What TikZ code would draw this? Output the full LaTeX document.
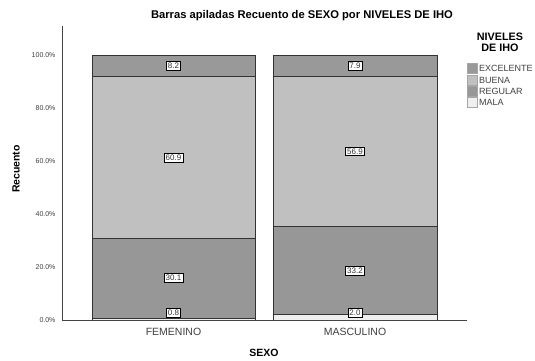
\documentclass[tikz,border=0pt]{standalone}
\usepackage{fontspec}
\setmainfont{Liberation Sans}
\definecolor{cexc}{HTML}{999999}
\definecolor{cbue}{HTML}{C0C0C0}
\definecolor{creg}{HTML}{979797}
\definecolor{cmal}{HTML}{EFEFEF}
\definecolor{axisc}{HTML}{444444}
\begin{document}
\begin{tikzpicture}[x=1pt,y=-1pt,
  seg/.style={draw=black!80, line width=0.6pt},
  valbox/.style={draw=black, fill=white, line width=0.5pt, inner sep=1.5pt,
    font=\fontsize{8}{9}\selectfont, text=black!80},
  tick/.style={anchor=east, font=\fontsize{7}{8}\selectfont, text=black!75},
  cat/.style={font=\fontsize{10.5}{12}\selectfont, text=black!75},
  axlab/.style={font=\bfseries\fontsize{10.5}{12}\selectfont},
  legsq/.style={draw=black!35, line width=0.4pt},
  legtxt/.style={anchor=west, font=\fontsize{9}{10}\selectfont, text=black!75, inner sep=0pt}]
\useasboundingbox[fill=white] (0,0) rectangle (535,360);

% title
\node[font=\bfseries\fontsize{11.2}{13}\selectfont] (title) at (302,16) {Barras apiladas Recuento de SEXO por NIVELES DE IHO};

% FEMENINO bar
\filldraw[seg, fill=cmal] (92,320) rectangle (255,{320-2.65*0.8});
\filldraw[seg, fill=creg] (92,{320-2.65*0.8}) rectangle (255,{320-2.65*30.9});
\filldraw[seg, fill=cbue] (92,{320-2.65*30.9}) rectangle (255,{320-2.65*91.8});
\filldraw[seg, fill=cexc] (92,{320-2.65*91.8}) rectangle (255,55);

% MASCULINO bar
\filldraw[seg, fill=cmal] (273,320) rectangle (437,{320-2.65*2.0});
\filldraw[seg, fill=creg] (273,{320-2.65*2.0}) rectangle (437,{320-2.65*35.2});
\filldraw[seg, fill=cbue] (273,{320-2.65*35.2}) rectangle (437,{320-2.65*92.1});
\filldraw[seg, fill=cexc] (273,{320-2.65*92.1}) rectangle (437,55);

% value labels
\node[valbox] (fmal) at (173.5,313) {0.8};
\node[valbox] (freg) at (173.5,{320-2.65*15.85}) {30.1};
\node[valbox] (fbue) at (173.5,{320-2.65*61.35}) {60.9};
\node[valbox] (fexc) at (173.5,{320-2.65*95.9}) {8.2};
\node[valbox] (mmal) at (355,313) {2.0};
\node[valbox] (mreg) at (355,{320-2.65*18.6}) {33.2};
\node[valbox] (mbue) at (355,{320-2.65*63.65}) {56.9};
\node[valbox] (mexc) at (355,{320-2.65*96.05}) {7.9};

% axes
\coordinate (ytop) at (62,26);
\coordinate (orig) at (62,320);
\coordinate (xend) at (467,320);
\draw[axisc, line width=0.8pt] (ytop) -- (orig) -- (xend);

% ticks
\node[tick] (t0) at (59,320) {0.0\%};
\node[tick] (t20) at (59,267) {20.0\%};
\node[tick] (t40) at (59,214) {40.0\%};
\node[tick] (t60) at (59,161) {60.0\%};
\node[tick] (t80) at (59,108) {80.0\%};
\node[tick] (t100) at (59,55) {100.0\%};

% categories
\node[cat] (cfem) at (173.5,332) {FEMENINO};
\node[cat] (cmas) at (355,332) {MASCULINO};

% axis labels
\node[axlab] (xlab) at (264,353) {SEXO};
\node[axlab, rotate=90] (ylab) at (16,169) {Recuento};

% legend
\node[font=\bfseries\fontsize{10.8}{11.5}\selectfont, align=center] (legt) at (500,42.5) {NIVELES\\DE IHO};
\filldraw[legsq, fill=cexc] (467,63) rectangle (477,73);
\node[legtxt] (lexc) at (479,68) {EXCELENTE};
\filldraw[legsq, fill=cbue] (467,75) rectangle (477,85);
\node[legtxt] (lbue) at (479,80) {BUENA};
\filldraw[legsq, fill=creg] (467,86) rectangle (477,96);
\node[legtxt] (lreg) at (479,91) {REGULAR};
\filldraw[legsq, fill=cmal] (467,97) rectangle (477,107);
\node[legtxt] (lmal) at (479,102) {MALA};
\end{tikzpicture}
\end{document}
